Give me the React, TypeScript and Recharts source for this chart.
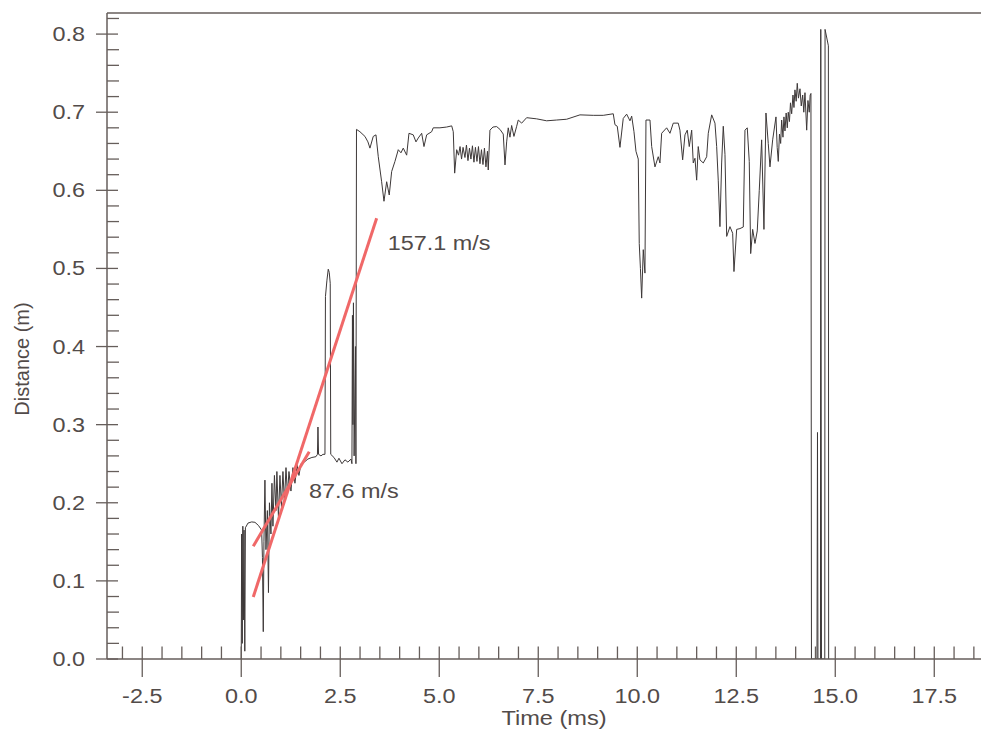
import React from "react";
import { LineChart, Line, XAxis, YAxis, ReferenceLine, ReferenceDot } from "recharts";

// scanned displacement trace, [time (ms), distance (m)]
const launchTrace: [number, number][] = [
  [0.0, 0.0], [0.01, 0.16], [0.025, 0.02], [0.04, 0.17], [0.055, 0.05], [0.07, 0.165],
  [0.09, 0.01], [0.105, 0.168], [0.17, 0.174], [0.263, 0.1755], [0.346, 0.175], [0.434, 0.171],
  [0.515, 0.165], [0.535, 0.13], [0.556, 0.035], [0.573, 0.15], [0.598, 0.229], [0.624, 0.14],
  [0.66, 0.19], [0.687, 0.085], [0.712, 0.2], [0.75, 0.16], [0.775, 0.225], [0.8, 0.17],
  [0.838, 0.235], [0.876, 0.19], [0.9, 0.24], [0.94, 0.18], [0.977, 0.235], [1.015, 0.195],
  [1.053, 0.24], [1.09, 0.2], [1.13, 0.245], [1.167, 0.21], [1.205, 0.24], [1.255, 0.215],
  [1.305, 0.245], [1.356, 0.225], [1.41, 0.248], [1.457, 0.235], [1.508, 0.25],
];

const stepTrace: [number, number][] = [
  [1.566, 0.251], [1.684, 0.256], [1.785, 0.258], [1.886, 0.259], [1.924, 0.262], [1.937, 0.297],
  [1.952, 0.262], [2.013, 0.26], [2.063, 0.262], [2.114, 0.262], [2.126, 0.464], [2.164, 0.485],
  [2.197, 0.499], [2.222, 0.495], [2.247, 0.481], [2.26, 0.262], [2.341, 0.258], [2.417, 0.252],
  [2.467, 0.257], [2.543, 0.25], [2.619, 0.255], [2.694, 0.252], [2.77, 0.256], [2.795, 0.25],
  [2.808, 0.44], [2.82, 0.3], [2.833, 0.456], [2.85, 0.26], [2.884, 0.4], [2.896, 0.25],
];

const plateauTrace: [number, number][] = [
  [2.91, 0.678], [2.997, 0.675], [3.124, 0.669], [3.199, 0.662], [3.25, 0.654], [3.333, 0.669],
  [3.402, 0.671], [3.46, 0.643], [3.545, 0.611], [3.604, 0.586], [3.672, 0.611], [3.737, 0.594],
  [3.798, 0.624], [3.881, 0.637], [3.965, 0.652], [4.033, 0.648], [4.091, 0.654], [4.177, 0.645],
  [4.235, 0.673], [4.343, 0.671], [4.412, 0.662], [4.47, 0.667], [4.556, 0.673], [4.614, 0.656],
  [4.682, 0.671], [4.808, 0.675], [4.848, 0.68], [5.018, 0.68], [5.187, 0.681], [5.314, 0.6825],
  [5.354, 0.675], [5.389, 0.622], [5.44, 0.652], [5.487, 0.645], [5.525, 0.656], [5.563, 0.64],
  [5.601, 0.655], [5.649, 0.642], [5.687, 0.658], [5.725, 0.638], [5.763, 0.654], [5.8, 0.64],
  [5.838, 0.657], [5.876, 0.636], [5.914, 0.655], [5.952, 0.637], [5.99, 0.656], [6.028, 0.634],
  [6.066, 0.652], [6.104, 0.633], [6.141, 0.654], [6.179, 0.63], [6.217, 0.65], [6.237, 0.626],
  [6.28, 0.677], [6.356, 0.681], [6.449, 0.6816], [6.533, 0.678], [6.616, 0.672], [6.66, 0.6325],
  [6.702, 0.662], [6.742, 0.68], [6.785, 0.668], [6.828, 0.683], [6.886, 0.669], [6.955, 0.682],
  [6.995, 0.69], [7.081, 0.686], [7.207, 0.693], [7.46, 0.6915], [7.712, 0.689], [7.965, 0.69],
  [8.217, 0.691], [8.553, 0.6966], [8.889, 0.696], [9.141, 0.696], [9.394, 0.698], [9.437, 0.684],
  [9.495, 0.682], [9.563, 0.655], [9.646, 0.692], [9.732, 0.6975], [9.816, 0.689], [9.859, 0.695],
  [9.917, 0.675], [9.967, 0.65],
];

const lateTrace: [number, number][] = [
  [10.025, 0.64], [10.05, 0.532], [10.08, 0.5], [10.111, 0.462], [10.152, 0.524], [10.194, 0.494],
  [10.22, 0.69], [10.321, 0.69], [10.364, 0.656], [10.447, 0.63], [10.53, 0.643], [10.573, 0.635],
  [10.616, 0.673], [10.742, 0.68], [10.826, 0.673], [10.909, 0.686], [11.035, 0.686], [11.078, 0.677],
  [11.146, 0.639], [11.205, 0.671], [11.263, 0.677], [11.313, 0.656], [11.374, 0.677], [11.414, 0.635],
  [11.457, 0.641], [11.5, 0.613], [11.54, 0.656], [11.583, 0.639], [11.667, 0.635], [11.753, 0.643],
  [11.793, 0.673], [11.879, 0.6966], [11.962, 0.686], [12.005, 0.656], [12.045, 0.613], [12.088, 0.5535],
  [12.131, 0.635], [12.172, 0.682], [12.215, 0.646], [12.258, 0.541], [12.341, 0.5535], [12.409, 0.545],
  [12.442, 0.496], [12.51, 0.55], [12.593, 0.551], [12.677, 0.553], [12.72, 0.677], [12.778, 0.68],
  [12.828, 0.637], [12.864, 0.519], [12.914, 0.55], [12.972, 0.532], [13.03, 0.548], [13.081, 0.6],
  [13.141, 0.6646], [13.199, 0.55], [13.25, 0.699], [13.308, 0.66], [13.351, 0.63], [13.419, 0.6646],
  [13.503, 0.694], [13.533, 0.655], [13.561, 0.637], [13.591, 0.672], [13.621, 0.66], [13.646, 0.69],
  [13.679, 0.668], [13.704, 0.694], [13.73, 0.676], [13.76, 0.699], [13.788, 0.68], [13.813, 0.7],
  [13.843, 0.688], [13.869, 0.712], [13.899, 0.698], [13.932, 0.722], [13.957, 0.706], [13.982, 0.7286],
  [14.013, 0.714], [14.04, 0.737], [14.07, 0.718], [14.109, 0.73], [14.141, 0.708], [14.177, 0.722],
  [14.205, 0.7], [14.235, 0.725], [14.278, 0.677], [14.31, 0.715], [14.343, 0.7], [14.366, 0.722],
  [14.386, 0.724],
];

const exitTrace: [number, number][] = [
  [14.399, 0.0], [14.538, 0.0], [14.551, 0.29], [14.563, 0.0], [14.626, 0.0], [14.634, 0.806],
  [14.652, 0.0], [14.735, 0.0], [14.742, 0.806], [14.826, 0.785], [14.833, 0.0],
];

// straight-line fits drawn over the trace
const fastFit = [{ x: 0.303, y: 0.0794 }, { x: 3.419, y: 0.5643 }];
const slowFit = [{ x: 0.303, y: 0.1444 }, { x: 1.717, y: 0.2652 }];
const fitLabels = [
  { text: "157.1 m/s", t: 3.7, d: 0.5326 },
  { text: "87.6 m/s", t: 1.71, d: 0.215 },
];

const xDomain = [-3.39, 18.68];
const yDomain = [0, 0.827];
const xMajorTicks = [-2.5, 0, 2.5, 5, 7.5, 10, 12.5, 15, 17.5];
const xMinorTicks = [
  -3, -2, -1.5, -1, -0.5, 0.5, 1, 1.5, 2, 3, 3.5, 4, 4.5, 5.5, 6, 6.5, 7, 8, 8.5, 9, 9.5,
  10.5, 11, 11.5, 12, 13, 13.5, 14, 14.5, 15.5, 16, 16.5, 17, 18, 18.5,
];
const yMajorTicks = [0, 0.1, 0.2, 0.3, 0.4, 0.5, 0.6, 0.7, 0.8];
const yMinorTicks = [
  0.02, 0.04, 0.06, 0.08, 0.12, 0.14, 0.16, 0.18, 0.22, 0.24, 0.26, 0.28, 0.32, 0.34, 0.36, 0.38,
  0.42, 0.44, 0.46, 0.48, 0.52, 0.54, 0.56, 0.58, 0.62, 0.64, 0.66, 0.68, 0.72, 0.74, 0.76, 0.78, 0.82,
];

const data = [...launchTrace, ...stepTrace, ...plateauTrace, ...lateTrace, ...exitTrace].map(
  ([t, d]) => ({ t, d })
);

const AXIS = "#665e5b";
const TEXT = "#524b49";
const FONT = "'Liberation Sans', Arial, Helvetica, sans-serif";

const isMajor = (v: number, majors: number[]) => majors.some((m) => Math.abs(m - v) < 1e-9);

function TimeTick({ x, y, payload }: any) {
  const v = payload.value;
  if (!isMajor(v, xMajorTicks)) {
    return <line x1={x} x2={x} y1={y - 12.5} y2={y} stroke={AXIS} strokeWidth={1.3} />;
  }
  return (
    <g>
      <line x1={x} x2={x} y1={y - 12.5} y2={y + 18} stroke={AXIS} strokeWidth={1.3} />
      <text
        transform={`translate(${x},${y + 44}) scale(1.2,1)`}
        textAnchor="middle"
        fontSize={19.5}
        fill={TEXT}
        fontFamily={FONT}
      >
        {v.toFixed(1)}
      </text>
    </g>
  );
}

function DistanceTick({ x, y, payload }: any) {
  const v = payload.value;
  if (!isMajor(v, yMajorTicks)) {
    return <line x1={x} x2={x + 12} y1={y} y2={y} stroke={AXIS} strokeWidth={1.3} />;
  }
  return (
    <g>
      <line x1={x - 11} x2={x + 11} y1={y} y2={y} stroke={AXIS} strokeWidth={1.3} />
      <text
        transform={`translate(${x - 22},${y + 7}) scale(1.2,1)`}
        textAnchor="end"
        fontSize={19.5}
        fill={TEXT}
        fontFamily={FONT}
      >
        {v.toFixed(1)}
      </text>
    </g>
  );
}

export default function App() {
  return (
    <div style={{ position: "absolute", left: 0, top: 0, width: 981, height: 729, background: "#fff" }}>
      <LineChart
        width={981}
        height={729}
        data={data}
        margin={{ top: 13, right: 0, left: 106, bottom: 69 }}
        style={{ fontFamily: FONT }}
      >
        <XAxis
          dataKey="t"
          type="number"
          domain={xDomain}
          allowDataOverflow
          ticks={[...xMajorTicks, ...xMinorTicks].sort((a, b) => a - b)}
          interval={0}
          height={1}
          tickSize={0}
          tickMargin={0}
          tickLine={false}
          tick={<TimeTick />}
          axisLine={{ stroke: AXIS, strokeWidth: 1.5 }}
          label={{
            content: (p: any) => {
              const vb = p.viewBox || { x: 107, y: 659, width: 874 };
              return (
                <text
                  transform={`translate(${vb.x + vb.width / 2 + 10},${vb.y + 66}) scale(1.18,1)`}
                  textAnchor="middle"
                  fontSize={20}
                  fill={TEXT}
                  fontFamily={FONT}
                >
                  Time (ms)
                </text>
              );
            },
          }}
        />
        <YAxis
          dataKey="d"
          type="number"
          domain={yDomain}
          allowDataOverflow
          ticks={[...yMajorTicks, ...yMinorTicks].sort((a, b) => a - b)}
          interval={0}
          width={1}
          tickSize={0}
          tickMargin={0}
          tickLine={false}
          tick={<DistanceTick />}
          axisLine={{ stroke: AXIS, strokeWidth: 1.5 }}
          label={{
            content: (p: any) => {
              const vb = p.viewBox || { x: 106, y: 13, height: 646 };
              const cx = vb.x - 84;
              const cy = vb.y + vb.height / 2 + 23;
              return (
                <text
                  transform={`translate(${cx},${cy}) rotate(-90)`}
                  textAnchor="middle"
                  dominantBaseline="central"
                  fontSize={20}
                  fill={TEXT}
                  fontFamily={FONT}
                >
                  Distance (m)
                </text>
              );
            },
          }}
        />
        <ReferenceLine y={yDomain[1]} stroke={AXIS} strokeWidth={1.6} ifOverflow="visible" />
        <Line
          dataKey="d"
          type="linear"
          stroke="#3d3838"
          strokeWidth={1}
          dot={false}
          activeDot={false}
          isAnimationActive={false}
        />
        <ReferenceLine segment={fastFit} stroke="#f06868" strokeWidth={3} ifOverflow="visible" />
        <ReferenceLine segment={slowFit} stroke="#f06868" strokeWidth={3} ifOverflow="visible" />
        {fitLabels.map((l) => (
          <ReferenceDot
            key={l.text}
            x={l.t}
            y={l.d}
            r={0}
            ifOverflow="visible"
            shape={(p: any) => (
              <text
                transform={`translate(${p.cx},${p.cy + 7}) scale(1.2,1)`}
                fontSize={19.5}
                fill={TEXT}
                fontFamily={FONT}
              >
                {l.text}
              </text>
            )}
          />
        ))}
      </LineChart>
    </div>
  );
}
